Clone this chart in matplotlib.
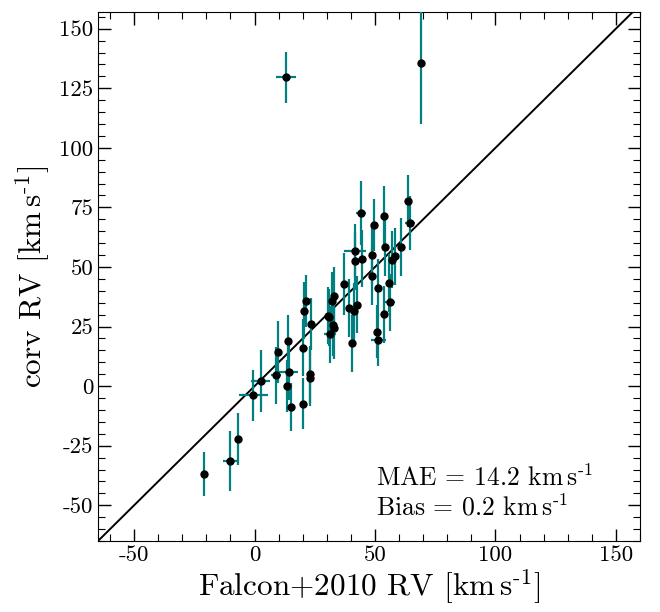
import numpy as np
import matplotlib
matplotlib.use("Agg")
import matplotlib.pyplot as plt
from matplotlib.ticker import MultipleLocator

plt.rcParams["font.family"] = "serif"
plt.rcParams["font.serif"] = ["cmr10"]
plt.rcParams["mathtext.fontset"] = "cm"
plt.rcParams["axes.unicode_minus"] = False
plt.rcParams["axes.formatter.use_mathtext"] = False

# Falcon+2010 RV vs corv RV (km/s)
falcon_rv = [12.9, 69.2, -20.8, -10.0, -7.0, -0.5, 2.5, 9.7, 9.0, 13.9,
             14.2, 13.3, 15.3, 19.9, 19.9, 21.3, 20.7, 23.3, 22.9, 22.9,
             30.3, 31.0, 33.1, 32.2, 32.5, 32.8, 31.5, 37.0, 39.2, 41.1,
             42.4, 40.5, 41.8, 41.8, 44.4, 44.3, 48.6, 48.6, 49.7, 51.1,
             53.6, 50.7, 51.4, 53.9, 54.2, 56.0, 56.1, 57.2, 58.5, 60.7,
             63.5, 64.6]
falcon_err = [4.2, 1.5, 1.0, 3.3, 1.0, 6.0, 3.9, 1.0, 2.0, 1.0,
              4.0, 1.0, 1.0, 1.0, 1.0, 1.0, 1.0, 1.0, 1.0, 1.0,
              1.0, 1.5, 1.0, 1.0, 1.0, 1.0, 2.5, 1.0, 1.0, 1.0,
              1.0, 1.0, 4.6, 1.0, 1.0, 2.0, 1.0, 1.0, 1.0, 1.0,
              1.0, 1.0, 3.0, 1.0, 1.0, 1.0, 2.0, 1.0, 1.0, 1.0,
              1.0, 2.0]
corv_rv = [129.6, 135.8, -36.9, -31.4, -22.1, -3.9, 2.2, 14.4, 4.6, 19.0,
           6.0, 0.1, -8.8, 16.2, -7.3, 35.6, 31.6, 26.0, 5.0, 3.6,
           29.6, 28.8, 37.9, 35.9, 25.6, 24.2, 21.8, 43.0, 32.8, 31.4,
           34.1, 18.0, 56.9, 52.5, 53.4, 72.7, 55.0, 46.2, 67.6, 41.2,
           30.2, 22.9, 19.3, 71.3, 58.3, 43.3, 35.2, 53.1, 54.5, 58.4,
           77.7, 68.3]
corv_err = [10.7, 26.0, 9.4, 12.6, 11.0, 10.6, 12.9, 13.0, 12.0, 11.0,
            12.0, 11.0, 10.0, 12.0, 10.5, 11.0, 12.0, 11.0, 12.0, 12.0,
            12.0, 12.0, 12.0, 12.0, 13.0, 13.0, 12.0, 13.0, 12.0, 12.0,
            12.0, 12.0, 11.0, 12.0, 12.0, 13.3, 12.0, 12.0, 11.0, 12.0,
            12.0, 11.0, 11.0, 12.6, 12.0, 12.0, 12.0, 12.0, 12.0, 12.0,
            10.8, 11.3]

unit = r"km$\,$s$^{\text{-1}}$"
mae_text = "MAE = 14.2 " + unit
bias_text = "Bias = 0.2 " + unit

fig = plt.figure(figsize=(6.6, 6.12), dpi=100)
ax = fig.add_axes([98 / 660, 71 / 612, 542 / 660, 529 / 612])

ax.errorbar(falcon_rv, corv_rv, xerr=falcon_err, yerr=corv_err, fmt="o",
            color="black", ms=5, ecolor="teal", elinewidth=1.6, capsize=0,
            zorder=3)

lims = [-65, 160]
ax.plot(lims, lims, color="black", lw=1.4, zorder=2)
ax.set_xlim(-65, 160)
ax.set_ylim(-65, 157)

ax.xaxis.set_major_locator(MultipleLocator(50))
ax.xaxis.set_minor_locator(MultipleLocator(10))
ax.yaxis.set_major_locator(MultipleLocator(25))
ax.yaxis.set_minor_locator(MultipleLocator(5))
ax.tick_params(which="both", direction="in", top=True, right=True,
               labelsize=16.5)
ax.tick_params(which="major", length=9, width=1)
ax.tick_params(which="minor", length=5, width=0.8)

ax.set_xlabel("Falcon+2010 RV [" + unit + "]", fontsize=22.5, labelpad=2)
ax.set_ylabel("corv RV [" + unit + "]", fontsize=22.5, labelpad=4)

ax.text(0.513, 0.119, mae_text, transform=ax.transAxes, fontsize=18.5,
        va="center", ha="left")
ax.text(0.513, 0.064, bias_text, transform=ax.transAxes, fontsize=18.5,
        va="center", ha="left")

fig.savefig("out.png", dpi=100)
